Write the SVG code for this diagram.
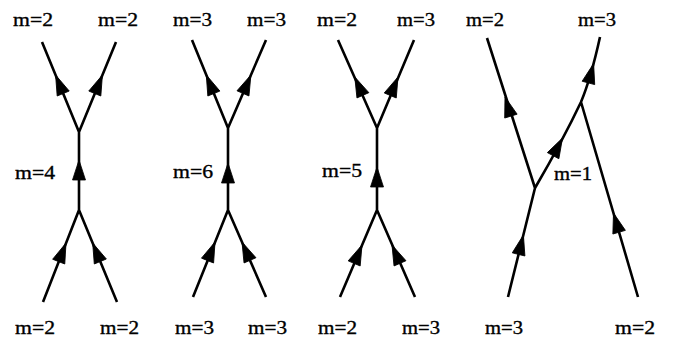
<svg xmlns="http://www.w3.org/2000/svg" xmlns:xlink="http://www.w3.org/1999/xlink" width="673" height="341" viewBox="0 0 673 341">
<style>
.e{fill:none;stroke:#000;stroke-width:2.6;stroke-linecap:butt;stroke-linejoin:round}
.a{fill:#000;stroke:#000;stroke-width:0.8;stroke-linejoin:miter}
text{font-family:"Liberation Serif","Times New Roman",serif;font-size:19px;fill:#000;stroke:#000;stroke-width:0.35}
</style>
<defs>
<path id="ah" d="M0,0 L-20,-6.5 L-20,6.5 Z"/>
</defs>
<rect width="673" height="341" fill="#fff"/>
<g id="connectors">
<!-- diagram 1 -->
<path class="e" d="M42,42 L79,132 L116,42 M79,132 L79,210 M43,302 L79,210 L117,302"/>
<use xlink:href="#ah" class="a" transform="translate(55.6,75) rotate(-112.35)"/>
<use xlink:href="#ah" class="a" transform="translate(102.4,75) rotate(-67.65)"/>
<use xlink:href="#ah" class="a" transform="translate(79,160) rotate(-90)"/>
<use xlink:href="#ah" class="a" transform="translate(66,243) rotate(-68.6)"/>
<use xlink:href="#ah" class="a" transform="translate(92.7,243) rotate(-112.4)"/>
<!-- diagram 2 -->
<path class="e" d="M192,40 L228,128 L266,40 M228,128 L228,210 M193,297 L228,210 L266,297"/>
<use xlink:href="#ah" class="a" transform="translate(206.3,75) rotate(-112.25)"/>
<use xlink:href="#ah" class="a" transform="translate(250.9,75) rotate(-66.65)"/>
<use xlink:href="#ah" class="a" transform="translate(228,163) rotate(-90)"/>
<use xlink:href="#ah" class="a" transform="translate(215,242) rotate(-68.1)"/>
<use xlink:href="#ah" class="a" transform="translate(242,242) rotate(-113.6)"/>
<!-- diagram 3 -->
<path class="e" d="M338,40 L377,128 L414,40 M377,128 L377,210 M340,297 L377,210 L415,297"/>
<use xlink:href="#ah" class="a" transform="translate(354.8,77) rotate(-113.9)"/>
<use xlink:href="#ah" class="a" transform="translate(398,77) rotate(-67.2)"/>
<use xlink:href="#ah" class="a" transform="translate(377,167) rotate(-90)"/>
<use xlink:href="#ah" class="a" transform="translate(362,245) rotate(-67)"/>
<use xlink:href="#ah" class="a" transform="translate(392,245) rotate(-113.6)"/>
<!-- diagram 4 -->
<path class="e" d="M487,38 L535,188 M508,297 L535,188 Q563,140 581,102 Q591,78 600,37 M581,102 L638,297"/>
<use xlink:href="#ah" class="a" transform="translate(505,97) rotate(-107.2)"/>
<use xlink:href="#ah" class="a" transform="translate(523.4,235) rotate(-76.1)"/>
<use xlink:href="#ah" class="a" transform="translate(562.5,138) rotate(-62)"/>
<use xlink:href="#ah" class="a" transform="translate(593.6,63.6) rotate(-75)"/>
<use xlink:href="#ah" class="a" transform="translate(613.5,213) rotate(-106.3)"/>
</g>
<g id="labels-diagram1">
<text x="13" y="26" textLength="40" lengthAdjust="spacingAndGlyphs">m=2</text>
<text x="98" y="26" textLength="40" lengthAdjust="spacingAndGlyphs">m=2</text>
<text x="15" y="179" textLength="40" lengthAdjust="spacingAndGlyphs">m=4</text>
<text x="15" y="334" textLength="40" lengthAdjust="spacingAndGlyphs">m=2</text>
<text x="100" y="334" textLength="39" lengthAdjust="spacingAndGlyphs">m=2</text>
</g>
<g id="labels-diagram2">
<text x="173" y="26" textLength="39" lengthAdjust="spacingAndGlyphs">m=3</text>
<text x="247" y="26" textLength="39" lengthAdjust="spacingAndGlyphs">m=3</text>
<text x="173" y="178" textLength="40" lengthAdjust="spacingAndGlyphs">m=6</text>
<text x="175" y="334" textLength="39" lengthAdjust="spacingAndGlyphs">m=3</text>
<text x="248" y="334" textLength="39" lengthAdjust="spacingAndGlyphs">m=3</text>
</g>
<g id="labels-diagram3">
<text x="317" y="26" textLength="40" lengthAdjust="spacingAndGlyphs">m=2</text>
<text x="397" y="26" textLength="38" lengthAdjust="spacingAndGlyphs">m=3</text>
<text x="322" y="177" textLength="40" lengthAdjust="spacingAndGlyphs">m=5</text>
<text x="318" y="334" textLength="39" lengthAdjust="spacingAndGlyphs">m=2</text>
<text x="402" y="334" textLength="38" lengthAdjust="spacingAndGlyphs">m=3</text>
</g>
<g id="labels-diagram4">
<text x="466" y="26" textLength="38" lengthAdjust="spacingAndGlyphs">m=2</text>
<text x="578" y="26" textLength="38" lengthAdjust="spacingAndGlyphs">m=3</text>
<text x="554" y="180" textLength="38" lengthAdjust="spacingAndGlyphs">m=1</text>
<text x="485" y="334" textLength="38" lengthAdjust="spacingAndGlyphs">m=3</text>
<text x="615" y="334" textLength="40" lengthAdjust="spacingAndGlyphs">m=2</text>
</g>
</svg>
